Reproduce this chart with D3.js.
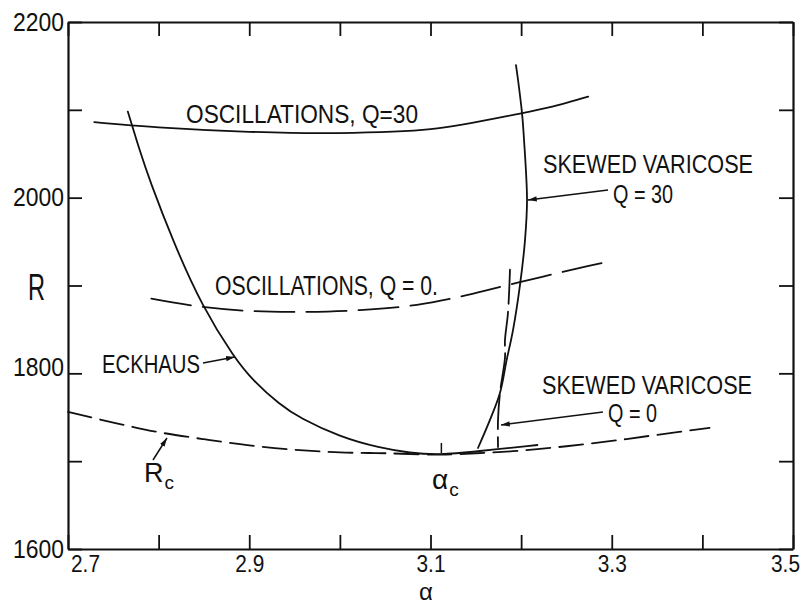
<!DOCTYPE html>
<html><head><meta charset="utf-8">
<script src="https://cdn.jsdelivr.net/npm/d3@7"></script>
<style>
html,body{margin:0;padding:0;background:#fff;}
svg{display:block;}
text{font-family:"Liberation Sans Narrow","Liberation Sans",Arial,sans-serif;fill:#111;}
</style></head>
<body><svg id="c" width="806" height="606"></svg>
<script>
// ---------- data (wavenumber a, Rayleigh number R) ----------
const xTickVals = [2.7,2.8,2.9,3.0,3.1,3.2,3.3,3.4,3.5];
const xTickLabels = ["2.7","2.9","3.1","3.3","3.5"];
const yTickVals = [1600,1700,1800,1900,2000,2100,2200];
const yTickLabels = [1600,1800,2000,2200];

// neutral curve R_c (dashed)
const rcA = [2.70,2.75,2.80,2.85,2.90,2.95,3.00,3.05,3.10,3.117,3.15,3.20,3.25,3.30,3.35,3.408];
const rcR = [1756,1744,1733,1725,1718,1713,1710,1709,1707.5,1707.5,1709,1712,1717,1723,1730,1738];

// oscillations, Q=0 (dashed)
const oscQ0A = [2.792,2.846,2.901,2.956,3.022,3.085,3.140,3.195,3.265,3.295];
const oscQ0R = [1885,1876,1871,1870,1872,1878,1889,1903,1920,1927];

// oscillations, Q=30 (solid)
const oscQ30A = [2.729,2.80,2.90,2.99,3.10,3.20,3.232,3.274];
const oscQ30R = [2086,2080,2075,2073.5,2078,2096,2103,2115];

// Eckhaus (solid)
const eckA = [2.766,2.779,2.790,2.816,2.848,2.884,2.904,2.934,2.956,3.000,3.044,3.077,3.110,3.150,3.218];
const eckR = [2098,2054,2020,1950,1876,1817,1792,1764,1749,1727.5,1715,1709.3,1707,1711,1718.4];

// skewed varicose, Q=30 (solid)
const svQ30A = [3.1943,3.1966,3.201,3.2032,3.2065,3.2043,3.1988,3.191,3.184,3.1767,3.1656,3.1524];
const svQ30R = [2151,2134,2096,2066,1997,1952,1901,1849,1815,1778,1747,1715];

// skewed varicose, Q=0 (dashed)
const svQ0A = [3.1877,3.1855,3.1822,3.1822,3.1767,3.1745,3.1745];
const svQ0R = [1918,1869,1838,1818,1778,1747,1716];

// critical point
const acPoint = [3.112, 1707];

// ---------- drawing ----------
const svg = d3.select("#c");
const x = d3.scaleLinear().domain([2.7,3.5]).range([68,793]);
const y = d3.scaleLinear().domain([1600,2200]).range([549,22]);
const ink = "#111";
const FONT = '"Liberation Sans Narrow","Liberation Sans",Arial,sans-serif';

const defs = svg.append("defs");
defs.append("marker").attr("id","arr").attr("viewBox","0 -4 10 8")
  .attr("refX",10).attr("refY",0).attr("markerWidth",9).attr("markerHeight",7)
  .attr("markerUnits","userSpaceOnUse").attr("orient","auto")
  .append("path").attr("d","M0,-3L10,0L0,3Z").attr("fill",ink);

function zip(A,R){ return A.map((a,i)=>[a,R[i]]); }
const line = d3.line().x(d=>x(d[0])).y(d=>y(d[1])).curve(d3.curveCatmullRom.alpha(0.5));
const smoothLine = d3.line().x(d=>x(d[0])).y(d=>y(d[1])).curve(d3.curveBasis);

function curve(A,R,dash,gen){
  svg.append("path").datum(zip(A,R)).attr("d",gen||line)
    .attr("fill","none").attr("stroke",ink).attr("stroke-width",1.8)
    .attr("stroke-linecap","round")
    .attr("stroke-dasharray",dash||null);
}
curve(rcA,rcR,"24,9");
curve(oscQ0A,oscQ0R,"40,12");
curve(oscQ30A,oscQ30R);
curve(eckA,eckR,null,smoothLine);
curve(svQ30A,svQ30R);
curve(svQ0A,svQ0R,"34,8");

// ac marker
svg.append("line").attr("x1",x(acPoint[0])).attr("x2",x(acPoint[0]))
  .attr("y1",y(acPoint[1])-2).attr("y2",y(acPoint[1])-12)
  .attr("stroke",ink).attr("stroke-width",1.5);

// ---------- axes ----------
function styleAxis(g){
  g.select(".domain").attr("stroke",ink).attr("stroke-width",2.2);
  g.selectAll(".tick line").attr("stroke",ink).attr("stroke-width",1.8);
  g.selectAll("text").attr("font-family",FONT).attr("fill",ink);
}
const fmt = d3.format(".1f");
const gx = svg.append("g").attr("transform",`translate(0,${y(1600)})`)
  .call(d3.axisBottom(x).tickValues(xTickVals).tickSizeInner(-14).tickSizeOuter(0).tickPadding(7)
    .tickFormat(d=> xTickLabels.includes(fmt(d)) ? fmt(d) : ""));
styleAxis(gx);
gx.selectAll("text").attr("font-size",23).each(function(d){
  const s=d3.select(this);
  if(s.text()){ s.attr("textLength",29).attr("lengthAdjust","spacingAndGlyphs"); }
  if(fmt(d)==="2.7") s.attr("dx",17);
  if(fmt(d)==="3.5") s.attr("dx",-8);
});
const gt = svg.append("g").attr("transform",`translate(0,${y(2200)})`)
  .call(d3.axisTop(x).tickValues(xTickVals).tickSizeInner(-14).tickSizeOuter(0).tickFormat(""));
styleAxis(gt);
const gy = svg.append("g").attr("transform",`translate(${x(2.7)},0)`)
  .call(d3.axisLeft(y).tickValues(yTickVals).tickSizeInner(-14).tickSizeOuter(0).tickPadding(4)
    .tickFormat(d=> yTickLabels.includes(d) ? String(d) : ""));
styleAxis(gy);
gy.selectAll("text").attr("font-size",25).each(function(d){
  const s=d3.select(this);
  if(s.text()){ s.attr("textLength",51).attr("lengthAdjust","spacingAndGlyphs"); }
  if(d===1800) s.attr("dy","0.1em");
});
const gr = svg.append("g").attr("transform",`translate(${x(3.5)},0)`)
  .call(d3.axisRight(y).tickValues(yTickVals).tickSizeInner(-14).tickSizeOuter(0).tickFormat(""));
styleAxis(gr);

// ---------- annotations ----------
function txt(t,x0,y0,fs,len){
  const e = svg.append("text").attr("x",x0).attr("y",y0).attr("font-size",fs).text(t);
  if(len) e.attr("textLength",len).attr("lengthAdjust","spacingAndGlyphs");
  return e;
}
function subTxt(main,sub,x0,y0,fs,fsSub){
  const e = svg.append("text").attr("x",x0).attr("y",y0).attr("font-size",fs);
  e.append("tspan").text(main);
  e.append("tspan").attr("font-size",fsSub).attr("dx",1).attr("dy",7).text(sub);
  return e;
}
function arrow(a0,r0,a1,r1){
  svg.append("line").attr("x1",x(a0)).attr("y1",y(r0)).attr("x2",x(a1)).attr("y2",y(r1))
    .attr("stroke",ink).attr("stroke-width",1.5).attr("marker-end","url(#arr)");
}
txt("OSCILLATIONS, Q=30",186,123,25,232);
txt("OSCILLATIONS, Q = 0.",215,295,27,223);
txt("SKEWED VARICOSE",543,173,25,210);
txt("Q = 30",613,203,26,60);
arrow(3.2959,2008.7,3.2076,1997.4);
txt("SKEWED VARICOSE",542,394,25,210);
txt("Q = 0",608,422,26,49);
arrow(3.2903,1756,3.1778,1741.2);
txt("ECKHAUS",102,373,25,98);
arrow(2.849,1811.8,2.884,1818.6);
txt("R",28,300,36,17);
// R_c label
subTxt("R","c",144,482,27,19);
arrow(2.7938,1701.3,2.8092,1726.4);
// a_c label
subTxt("α","c",432,489,28,19);
// x-axis title
svg.append("text").attr("x",x(3.095)).attr("y",600).attr("font-size",24)
  .attr("text-anchor","middle").text("α");
</script></body></html>
